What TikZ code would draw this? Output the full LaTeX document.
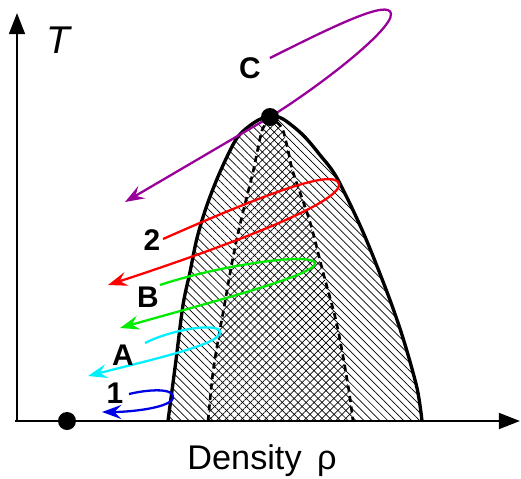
\documentclass[tikz,border=0pt]{standalone}
\usepackage{fontspec}
\setmainfont{Liberation Sans}
\usepackage{tikz}
\usetikzlibrary{arrows.meta, patterns.meta, positioning}

\definecolor{pathC}{RGB}{153,0,153}
\definecolor{path2}{RGB}{255,0,0}
\definecolor{pathB}{RGB}{0,235,0}
\definecolor{pathA}{RGB}{0,240,255}
\definecolor{path1}{RGB}{0,0,230}

\tikzset{
  axis/.style={line width=1.3pt, -{Triangle[length=12pt,width=9pt]}},
  quench/.style={line width=1.3pt, -{Stealth[length=11pt,width=8pt,inset=4pt]}},
  lbl/.style={font=\fontsize{17}{17}\selectfont\bfseries, inner sep=0pt},
  bigdot/.style={circle, fill=black, inner sep=0pt, minimum size=0.36cm}
}

\newcommand{\binodal}{(168,421) (176,360) (183,305) (190,272) (197,238) (207,205) (220,172) (237,138) (255,122) (270,116) (283,119) (303,135) (320,155) (337,178) (363,232) (387,292) (403,338) (417,388) (422,421)}
\newcommand{\spinodal}{(208,421) (213,372) (219,335) (225,302) (231,268) (237,238) (243,212) (253,172) (258,148) (263,128) (272,120) (282,128) (288,150) (293,172) (310,222) (323,272) (337,325) (348,385) (353,421)}

\begin{document}
\begin{tikzpicture}[x=0.02cm, y=-0.02cm]
    \useasboundingbox (0,0) rectangle (521,478);

    % Hatched regions (metastable / unstable)
    \path[pattern={Lines[angle=-45,distance=3.2pt,line width=0.4pt]}]
        plot[smooth] coordinates {\binodal} -- cycle;
    \path[pattern={Lines[angle=45,distance=3.2pt,line width=0.4pt]}]
        plot[smooth] coordinates {\spinodal} -- cycle;

    % Binodal (solid) and spinodal (dashed)
    \draw[line width=1.9pt] plot[smooth] coordinates {\binodal};
    \draw[line width=1.5pt, dash pattern=on 3.5pt off 2.5pt] plot[smooth] coordinates {\spinodal};

    % Axes
    \coordinate (O) at (17,421);
    \draw[axis] (15,421) -- (520,421);
    \draw[axis] (O) -- (17,13);
    \node[font=\fontsize{22}{22}\selectfont\itshape] (axT) at (58,40) {T};
    \node[font=\fontsize{19.5}{20}\selectfont, anchor=base] (axRho) at (262,469) {Density\hspace{0.45em}ρ};

    % Quench paths
    \coordinate (cp) at (270,117);
    \draw[quench, pathC] (270,58) .. controls (330,28) and (390,-2) .. (391,14) .. controls (392,30) and (320,86) .. (cp) -- (125,202);
    \draw[quench, path2] (163,239) .. controls (240,205) and (335,165) .. (339,184) .. controls (342,205) and (200,255) .. (108,285);
    \draw[quench, pathB] (160,285) .. controls (220,265) and (312,252) .. (315,263) .. controls (318,275) and (200,305) .. (120,328);
    \draw[quench, pathA] (145,343) .. controls (175,328) and (222,322) .. (220,333) .. controls (218,345) and (150,360) .. (88,376);
    \draw[quench, path1] (129,394) .. controls (150,389) and (175,388) .. (173,398) .. controls (170,408) and (130,412) .. (102,412);

    % Labels
    \node[lbl] (lblC) at (250,68) {C};
    \node[lbl] (lbl2) at (152,240) {2};
    \node[lbl] (lblB) at (148,297) {B};
    \node[lbl] (lblA) at (123,355) {A};
    \node[lbl] (lbl1) at (115,393) {1};

    % Critical point and dilute point
    \node[bigdot] (crit) at (cp) {};
    \node[bigdot] (dilute) at (67,421) {};
\end{tikzpicture}
\end{document}
